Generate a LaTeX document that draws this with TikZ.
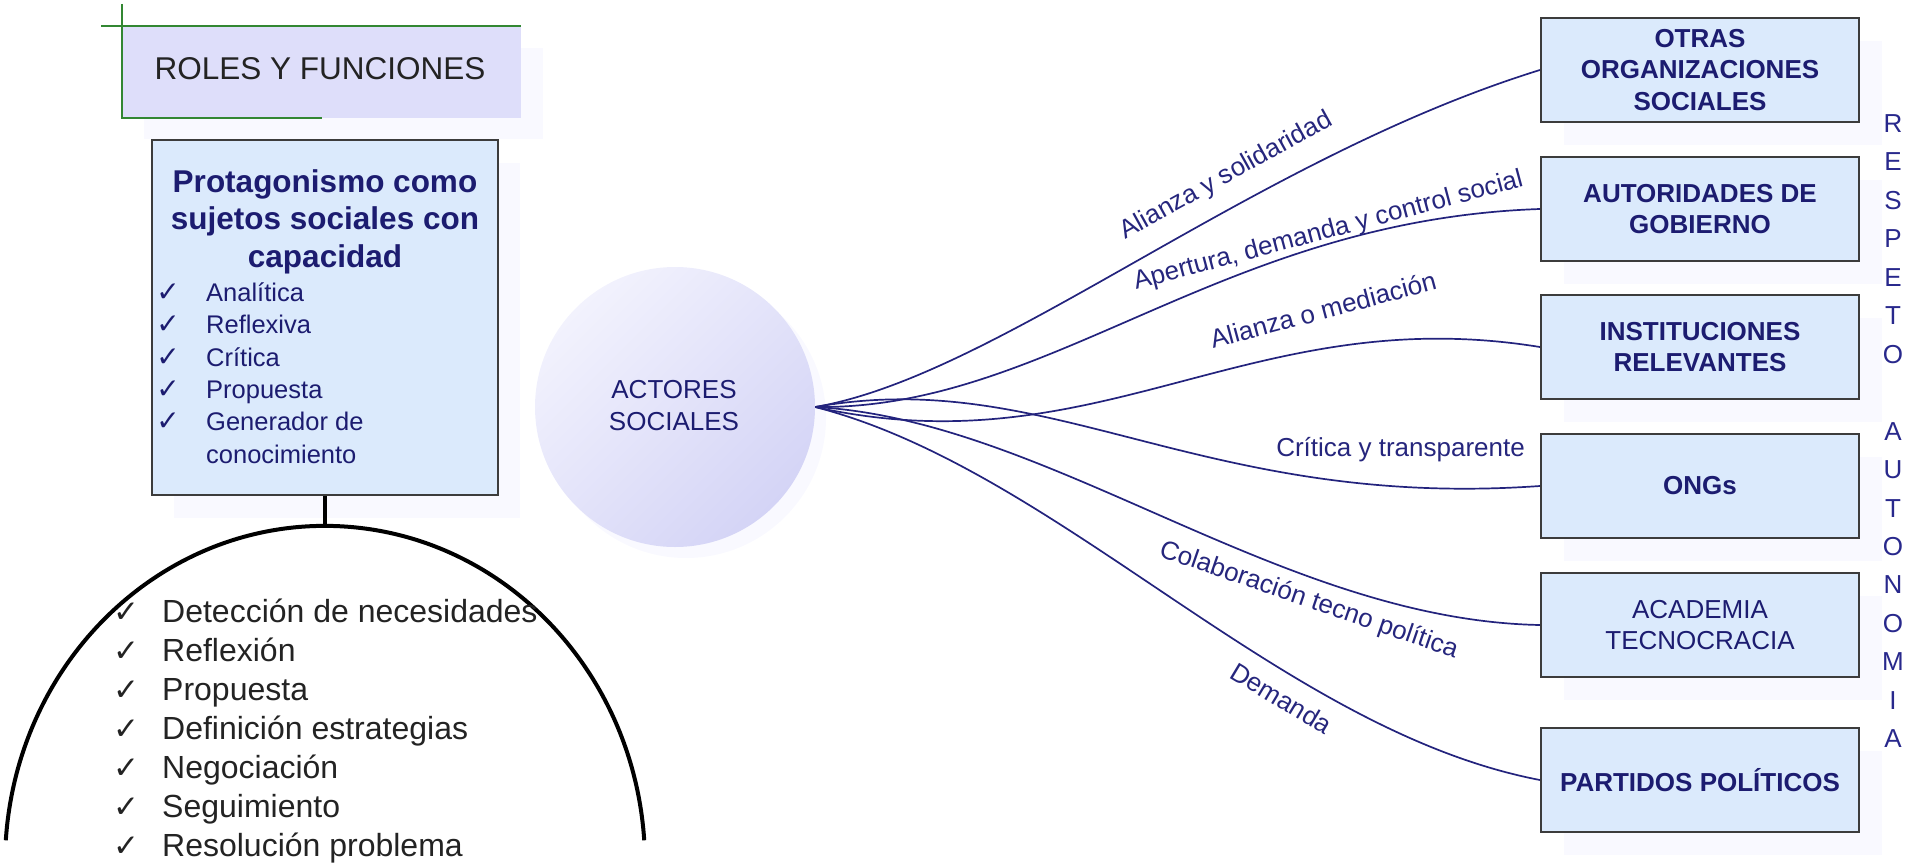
\documentclass[tikz,border=0pt]{standalone}
\usepackage{fontspec}
\setmainfont{Liberation Sans}
\newfontfamily\chkfont{DejaVu Sans}
\newcommand{\fsz}[2]{\fontsize{#1pt}{#2pt}\selectfont}
\definecolor{navy}{RGB}{28,28,112}
\definecolor{connc}{RGB}{35,35,125}
\definecolor{lblc}{RGB}{38,38,125}
\definecolor{boxfill}{RGB}{219,234,252}
\definecolor{boxdraw}{RGB}{60,60,60}
\definecolor{lavfill}{RGB}{222,222,250}
\definecolor{greenl}{RGB}{50,135,50}
\definecolor{shadowc}{RGB}{249,249,255}
\definecolor{circlight}{RGB}{242,242,253}
\definecolor{circdark}{RGB}{212,212,246}
\definecolor{darktxt}{RGB}{35,35,35}
\definecolor{respc}{RGB}{40,40,140}
\tikzset{
  rbox/.style={draw=boxdraw, line width=2.2pt, fill=boxfill, minimum width=318pt, minimum height=104pt,
    inner sep=0pt, align=center, text=navy, font=\fsz{26}{31.5}\bfseries},
  rboxn/.style={rbox, font=\fsz{26}{31.5}},
  shad/.style={fill=shadowc, draw=none},
  conn/.style={draw=connc, line width=1.7pt},
  lbl/.style={text=lblc, font=\fsz{26}{30}, inner sep=0pt},
  resp/.style={text=respc, font=\fsz{26}{30}, inner sep=0pt, anchor=base},
  titletxt/.style={text=navy, font=\fsz{31.5}{37.5}\bfseries, inner sep=0pt, anchor=base},
  itemtxt/.style={text=navy, font=\fsz{25.5}{30}, inner sep=0pt, anchor=base west},
  chk/.style={text=navy, font=\chkfont\fsz{28}{30}, inner sep=0pt, anchor=base},
  arctxt/.style={text=darktxt, font=\fsz{32}{38}, inner sep=0pt, anchor=base west},
  arcchk/.style={text=darktxt, font=\chkfont\fsz{31}{34}, inner sep=0pt, anchor=base},
  heavy/.style={draw=black, line width=4pt},
  grn/.style={draw=greenl, line width=2.6pt}
}
\begin{document}
\begin{tikzpicture}[x=1pt,y=-1pt]
\useasboundingbox (0,0) rectangle (1919,864);

% ---------- faint shadows ----------
\fill[shad] (144,48) rectangle (543,139);
\fill[shad] (174,163) rectangle (520,518);
\fill[shad] (686,418) circle[radius=140pt];
\fill[shad] (1564,41) rectangle (1882,145);
\fill[shad] (1564,180) rectangle (1882,284);
\fill[shad] (1564,318) rectangle (1882,422);
\fill[shad] (1564,457) rectangle (1882,561);
\fill[shad] (1564,596) rectangle (1882,700);
\fill[shad] (1564,751) rectangle (1882,855);

% ---------- ROLES Y FUNCIONES ----------
\fill[lavfill] (122,26) rectangle (521,118);
\draw[grn] (122,4) -- (122,118) -- (322,118);
\draw[grn] (101,26) -- (521,26);
\node[text=darktxt, font=\fsz{31.5}{36}, inner sep=0pt, anchor=base] (roles) at (320,80) {ROLES Y FUNCIONES};

% ---------- Protagonismo box ----------
\node[draw=boxdraw, line width=2pt, fill=boxfill, minimum width=346pt, minimum height=355pt, inner sep=0pt] (prot) at (325,317.5) {};
\node[titletxt] (t1) at (325,192) {Protagonismo como};
\node[titletxt] (t2) at (325,229.5) {sujetos sociales con};
\node[titletxt] (t3) at (325,267) {capacidad};
\foreach \txt/\yy/\k in {Analítica/301.5/1, Reflexiva/333.8/2, Crítica/366/3, Propuesta/398.3/4, Generador de/430.6/5}{
  \node[chk] (pc\k) at (168,\yy) {✓};
  \node[itemtxt] (pi\k) at (206,\yy) {\txt};
}
\node[itemtxt] (pi6) at (206,463) {conocimiento};

% ---------- arc ----------
\coordinate (arctop) at (325,528);
\coordinate (arcL) at (5.8,840.3);
\draw[heavy] (prot.south) -- (arctop);
\draw[heavy] (arcL) arc[start angle=176, end angle=4, x radius=320pt, y radius=338pt];
\foreach \txt/\yy/\k in {Detección de necesidades/622/1, Reflexión/661/2, Propuesta/700/3, Definición estrategias/739/4, Negociación/778/5, Seguimiento/817/6, Resolución problema/856/7}{
  \node[arcchk] (ac\k) at (126,\yy) {✓};
  \node[arctxt] (at\k) at (162,\yy) {\txt};
}

% ---------- ACTORES SOCIALES ----------
\node[circle, minimum size=280pt, inner sep=0pt, top color=circlight, bottom color=circdark, shading angle=45] (actor) at (675,407) {};
\node[text=navy, font=\fsz{26}{30}, inner sep=0pt, anchor=base] (act1) at (674,398) {ACTORES};
\node[text=navy, font=\fsz{26}{30}, inner sep=0pt, anchor=base] (act2) at (674,430) {SOCIALES};

% ---------- right boxes ----------
\node[rbox] (otras) at (1700,70) {OTRAS\\ORGANIZACIONES\\SOCIALES};
\node[rbox] (autoridades) at (1700,209) {AUTORIDADES DE\\GOBIERNO};
\node[rbox] (instituciones) at (1700,347) {INSTITUCIONES\\RELEVANTES};
\node[rbox] (ongs) at (1700,486) {ONGs};
\node[rboxn] (academia) at (1700,625) {ACADEMIA\\TECNOCRACIA};
\node[rbox] (partidos) at (1700,780) {PARTIDOS POLÍTICOS};

% ---------- connectors ----------
\draw[conn] (actor.east) .. controls (1000,375) and (1250,160) .. (otras.west);
\draw[conn] (actor.east) .. controls (1050,410) and (1220,220) .. (autoridades.west);
\draw[conn] (actor.east) .. controls (1100,470) and (1250,300) .. (instituciones.west);
\draw[conn] (actor.east) .. controls (1050,365) and (1200,510) .. (ongs.west);
\draw[conn] (actor.east) .. controls (1050,420) and (1280,620) .. (academia.west);
\draw[conn] (actor.east) .. controls (1060,470) and (1280,730) .. (partidos.west);

% ---------- connector labels ----------
\node[lbl, anchor=base west, rotate=29] (l1) at (1125,240) {Alianza y solidaridad};
\node[lbl, anchor=base west, rotate=15] (l2) at (1136,290) {Apertura, demanda y control social};
\node[lbl, anchor=base west, rotate=15] (l3) at (1213,349) {Alianza o mediación};
\node[lbl, anchor=base east] (l4) at (1525,456) {Crítica y transparente};
\node[lbl, anchor=base west, rotate=-19] (l5) at (1158,556) {Colaboración tecno política};
\node[lbl, anchor=base west, rotate=-31] (l6) at (1228,677) {Demanda};

% ---------- RESPETO AUTONOMIA ----------
\foreach \L/\k in {R/0,E/1,S/2,P/3,E/4,T/5,O/6,A/8,U/9,T/10,O/11,N/12,O/13,M/14,I/15,A/16}{
  \node[resp] (resp\k) at (1893,{132.5+38.45*\k}) {\L};
}
\end{tikzpicture}
\end{document}
